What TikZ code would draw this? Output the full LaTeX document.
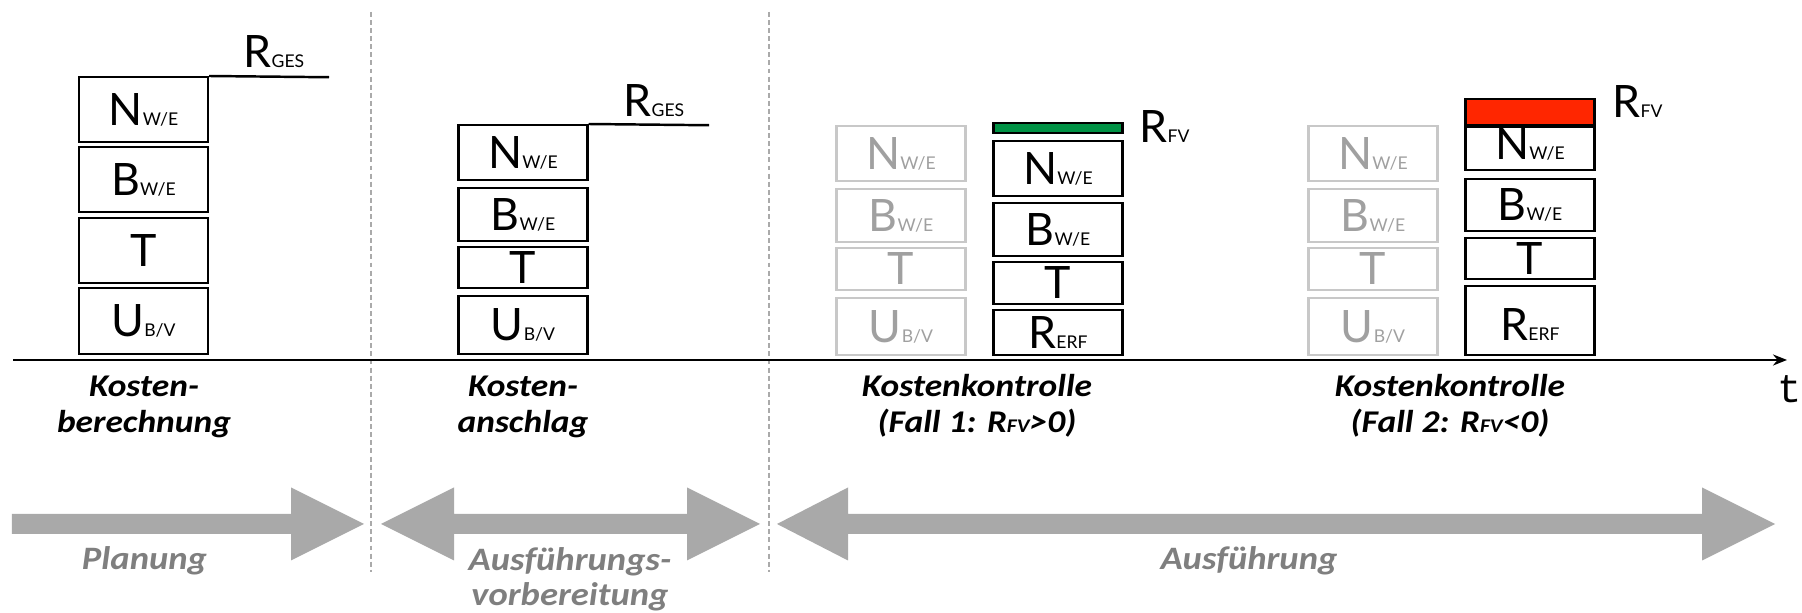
\documentclass[tikz,border=0pt]{standalone}
\usepackage{fontspec}
\setmainfont{Lato}
\newfontfamily\labelfont[FakeStretch=1.12]{Carlito}
\newfontfamily\axisfont{Liberation Mono}
\usepackage{xcolor}
\definecolor{kgray}{RGB}{169,169,169}
\definecolor{ktext}{RGB}{127,127,127}
\definecolor{kghost}{RGB}{200,200,200}
\definecolor{kghosttext}{RGB}{160,160,160}
\definecolor{kgreen}{RGB}{0,146,69}
\definecolor{kred}{RGB}{255,38,0}
\definecolor{kdash}{RGB}{170,170,170}
\usetikzlibrary{arrows.meta}

\newcommand{\kpos}[2]{{\fontsize{12.7}{13}\selectfont #1}{\fontsize{5}{6}\selectfont #2}}

\begin{document}
\begin{tikzpicture}[
  kbox/.style={draw=black, line width=0.7pt, minimum width=1.29cm, inner sep=0pt, text height=0.32cm, text depth=0pt},
  ghost/.style={kbox, draw=kghost, text=kghosttext},
  bar/.style={kbox, text height=0pt},
  rlabel/.style={anchor=base west, inner sep=0pt},
  stage/.style={font=\labelfont\bfseries\itshape\fontsize{9}{10.5}\selectfont, align=center, anchor=base, inner sep=0pt},
  phaselabel/.style={font=\labelfont\bfseries\itshape\fontsize{9.3}{10}\selectfont, text=ktext, align=center, anchor=base, inner sep=0pt},
  phase/.style={fill=kgray},
  sep/.style={draw=kdash, line width=0.45pt, dash pattern=on 1.4pt off 0.9pt},
  axis/.style={line width=0.7pt, -{Stealth[length=1.4mm, width=1.1mm]}}]
  \path[fill=white] (0,0) rectangle (18.02,6.13);
  \useasboundingbox (0,0) rectangle (18.02,6.13);

  % Phase separators
  \coordinate (sep1-top) at (3.71,6.01);
  \coordinate (sep1-bot) at (3.71,0.41);
  \coordinate (sep2-top) at (7.69,6.01);
  \coordinate (sep2-bot) at (7.69,0.41);
  \draw[sep] (sep1-top) -- (sep1-bot);
  \draw[sep] (sep2-top) -- (sep2-bot);

  % Kostenberechnung
  \node[kbox, minimum height=0.645cm] (kb-n) at (1.435,5.035) {\kpos{N}{W/E}};
  \node[kbox, minimum height=0.645cm] (kb-b) at (1.435,4.335) {\kpos{B}{W/E}};
  \node[kbox, minimum height=0.645cm] (kb-t) at (1.435,3.625) {\kpos{T}{}};
  \node[kbox, minimum height=0.655cm] (kb-u) at (1.435,2.92) {\kpos{U}{B/V}};
  \coordinate (kb-end) at (3.29,5.3575);
  \draw[line width=0.7pt] (kb-n.north east) -- (kb-end);
  \node[rlabel] (kb-r) at (2.43,5.45) {\kpos{R}{GES}};

  % Kostenanschlag
  \node[kbox, minimum height=0.545cm] (ka-n) at (5.23,4.605) {\kpos{N}{W/E}};
  \node[kbox, minimum height=0.525cm] (ka-b) at (5.23,3.985) {\kpos{B}{W/E}};
  \node[kbox, minimum height=0.405cm] (ka-t) at (5.23,3.455) {\kpos{T}{}};
  \node[kbox, minimum height=0.575cm] (ka-u) at (5.23,2.88) {\kpos{U}{B/V}};
  \coordinate (ka-end) at (7.09,4.8775);
  \draw[line width=0.7pt] (ka-n.north east) -- (ka-end);
  \node[rlabel] (ka-r) at (6.23,4.96) {\kpos{R}{GES}};

  % Kostenkontrolle, Fall 1
  \node[ghost, minimum height=0.545cm] (g1-n) at (9.01,4.595) {\kpos{N}{W/E}};
  \node[ghost, minimum height=0.525cm] (g1-b) at (9.01,3.975) {\kpos{B}{W/E}};
  \node[ghost, minimum height=0.415cm] (g1-t) at (9.01,3.44) {\kpos{T}{}};
  \node[ghost, minimum height=0.565cm] (g1-u) at (9.01,2.865) {\kpos{U}{B/V}};
  \node[bar, fill=kgreen, minimum height=0.095cm] (k1-fv) at (10.58,4.85) {};
  \node[kbox, minimum height=0.545cm] (k1-n) at (10.58,4.445) {\kpos{N}{W/E}};
  \node[kbox, minimum height=0.525cm] (k1-b) at (10.58,3.835) {\kpos{B}{W/E}};
  \node[kbox, minimum height=0.415cm] (k1-t) at (10.58,3.30) {\kpos{T}{}};
  \node[kbox, minimum height=0.445cm] (k1-r) at (10.58,2.805) {\kpos{R}{ERF}};
  \node[rlabel] (k1-lbl) at (11.39,4.70) {\kpos{R}{FV}};

  % Kostenkontrolle, Fall 2
  \node[ghost, minimum height=0.545cm] (g2-n) at (13.73,4.595) {\kpos{N}{W/E}};
  \node[ghost, minimum height=0.525cm] (g2-b) at (13.73,3.975) {\kpos{B}{W/E}};
  \node[ghost, minimum height=0.415cm] (g2-t) at (13.73,3.44) {\kpos{T}{}};
  \node[ghost, minimum height=0.565cm] (g2-u) at (13.73,2.865) {\kpos{U}{B/V}};
  \node[bar, fill=kred, minimum height=0.255cm] (k2-fv) at (15.30,5.01) {};
  \node[kbox, minimum height=0.425cm, text depth=0.1cm] (k2-n) at (15.30,4.645) {\kpos{N}{W/E}};
  \node[kbox, minimum height=0.515cm] (k2-b) at (15.30,4.08) {\kpos{B}{W/E}};
  \node[kbox, minimum height=0.405cm] (k2-t) at (15.30,3.545) {\kpos{T}{}};
  \node[kbox, minimum height=0.685cm, text height=0.41cm] (k2-r) at (15.30,2.925) {\kpos{R}{ERF}};
  \node[rlabel] (k2-lbl) at (16.12,4.95) {\kpos{R}{FV}};

  % Time axis
  \coordinate (t0) at (0.13,2.53);
  \coordinate (t1) at (17.87,2.53);
  \draw[axis] (t0) -- (t1);
  \node[font=\axisfont\fontsize{11.5}{12}\selectfont, inner sep=0pt] (tlabel) at (17.90,2.24) {t};

  % Stage labels
  \node[stage] (kb-lbl) at (1.44,1.80) {Kosten-\\berechnung};
  \node[stage] (ka-lbl) at (5.23,1.80) {Kosten-\\anschlag};
  \node[stage] (k1-txt) at (9.77,1.80) {Kostenkontrolle\\(Fall 1: R{\fontsize{5.5}{6}\selectfont FV}>0)};
  \node[stage] (k2-txt) at (14.50,1.80) {Kostenkontrolle\\(Fall 2: R{\fontsize{5.5}{6}\selectfont FV}<0)};

  % Phase arrows
  \fill[phase] (0.12,0.99) -- (2.91,0.99) -- (2.91,1.255) -- (3.64,0.89) -- (2.91,0.525) -- (2.91,0.79) -- (0.12,0.79) -- cycle;
  \fill[phase] (3.81,0.89) -- (4.54,1.255) -- (4.54,0.99) -- (6.87,0.99) -- (6.87,1.255) -- (7.60,0.89) -- (6.87,0.525) -- (6.87,0.79) -- (4.54,0.79) -- (4.54,0.525) -- cycle;
  \fill[phase] (7.77,0.89) -- (8.48,1.255) -- (8.48,0.99) -- (17.02,0.99) -- (17.02,1.255) -- (17.75,0.89) -- (17.02,0.525) -- (17.02,0.79) -- (8.48,0.79) -- (8.48,0.525) -- cycle;

  % Phase labels
  \node[phaselabel] (pl-plan) at (1.445,0.43) {Planung};
  \node[phaselabel] (pl-vorb) at (5.70,0.07) {Ausführungs-\\vorbereitung};
  \node[phaselabel] (pl-ausf) at (12.49,0.43) {Ausführung};
\end{tikzpicture}
\end{document}
